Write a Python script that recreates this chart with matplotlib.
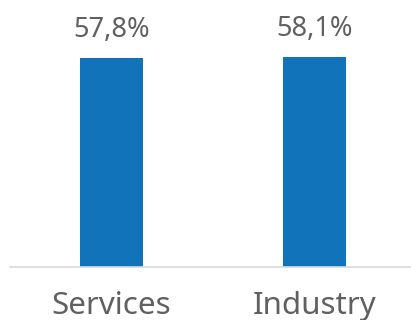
import matplotlib
matplotlib.use('Agg')
import matplotlib.pyplot as plt

# Participação por setor
setores = ['Services', 'Industry']
valores = [57.8, 58.1]
rotulos = ['57,8%', '58,1%']

plt.rcParams['font.family'] = ['Noto Sans', 'DejaVu Sans']
plt.rcParams['font.weight'] = 'light'

fig = plt.figure(figsize=(4.11, 3.2), dpi=100)
ax = fig.add_axes([10 / 411, (320 - 267) / 320, 1 - 10 / 411, 267 / 320])

posicoes = range(len(setores))
barras = ax.bar(posicoes, valores, width=0.31, color='#1173BA')

for barra, rotulo in zip(barras, rotulos):
    ax.annotate(rotulo, (barra.get_x() + barra.get_width() / 2, barra.get_height()),
                xytext=(0, 10), textcoords='offset points', ha='center', va='bottom',
                fontsize=19.5, color='#606060')

ax.set_xlim(-0.5, 1.475)
ax.set_ylim(0, 73.8)
ax.set_xticks(list(posicoes))
ax.set_xticklabels(setores, fontsize=22.5, color='#606060')
ax.tick_params(axis='x', length=0, pad=17)
ax.set_yticks([])
for lado in ['top', 'right', 'left']:
    ax.spines[lado].set_visible(False)
ax.spines['bottom'].set_color('#D9D9D9')
ax.spines['bottom'].set_linewidth(1.2)

plt.savefig('out.png', dpi=100)
